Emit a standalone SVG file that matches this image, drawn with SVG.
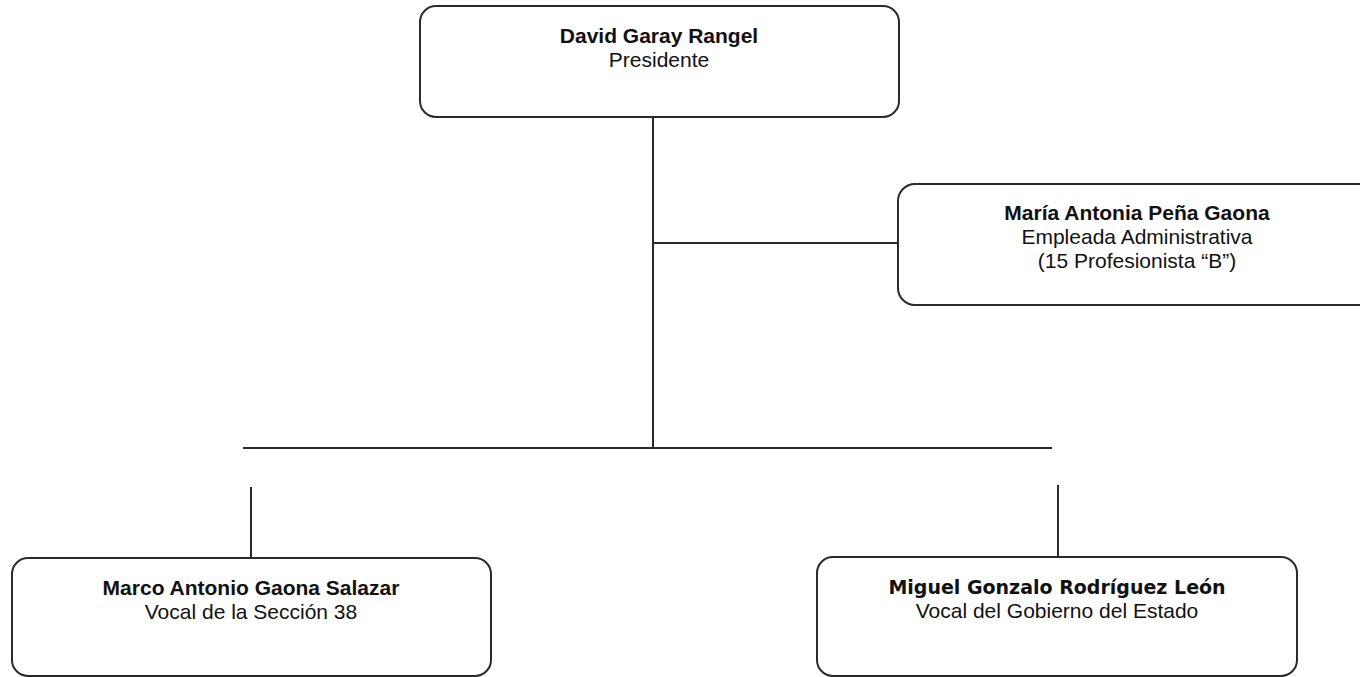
<svg xmlns="http://www.w3.org/2000/svg" width="1360" height="677" viewBox="0 0 1360 677">
<style>
.box{fill:#fff;stroke:#2a2a2a;stroke-width:2}
.ln{stroke:#2a2a2a;stroke-width:2;fill:none}
text{font-family:"Liberation Sans",Arial,sans-serif;font-size:21px;fill:#111;text-anchor:middle}
.b{font-weight:bold}
.t{font-family:"DejaVu Sans",Verdana,sans-serif;font-size:19px;font-weight:bold}
</style>
<rect width="1360" height="677" fill="#fff"/>
<g id="connectors">
<line class="ln" x1="653" y1="117" x2="653" y2="448"/>
<line class="ln" x1="653" y1="243" x2="898" y2="243"/>
<line class="ln" x1="243" y1="448" x2="1052" y2="448"/>
<line class="ln" x1="251" y1="487" x2="251" y2="558"/>
<line class="ln" x1="1058" y1="485" x2="1058" y2="557"/>
</g>
<g id="presidente">
<rect class="box" x="420" y="6" width="479" height="111" rx="16"/>
<text class="b" x="659" y="43">David Garay Rangel</text>
<text x="659" y="67">Presidente</text>
</g>
<g id="maria">
<rect class="box" x="898" y="184" width="478" height="121" rx="17"/>
<text class="b" x="1137" y="220">María Antonia Peña Gaona</text>
<text x="1137" y="244">Empleada Administrativa</text>
<text x="1137" y="268">(15 Profesionista “B”)</text>
</g>
<g id="marco">
<rect class="box" x="12" y="558" width="479" height="118" rx="16"/>
<text class="b" x="251" y="595">Marco Antonio Gaona Salazar</text>
<text x="251" y="619">Vocal de la Sección 38</text>
</g>
<g id="miguel">
<rect class="box" x="817" y="557" width="480" height="119" rx="16"/>
<text class="t" x="1057" y="594">Miguel Gonzalo Rodríguez León</text>
<text x="1057" y="618">Vocal del Gobierno del Estado</text>
</g>
</svg>
